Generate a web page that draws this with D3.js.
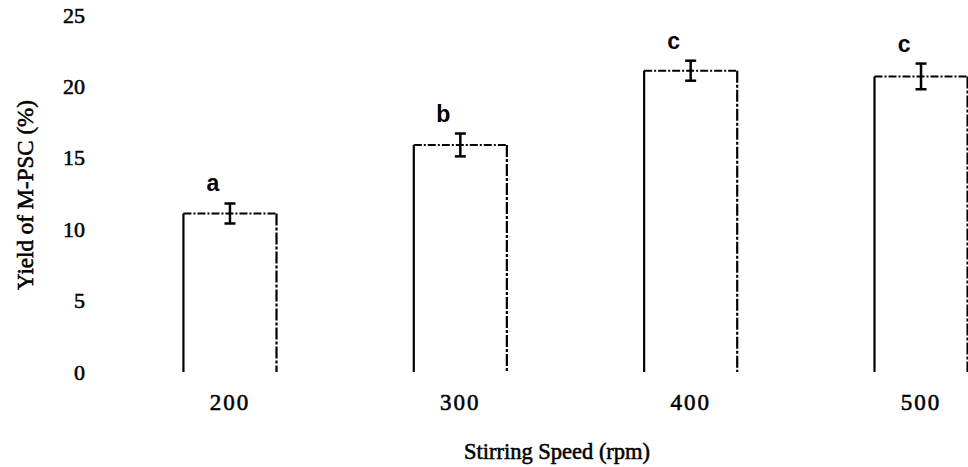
<!DOCTYPE html>
<html>
<head>
<meta charset="utf-8">
<script src="https://cdn.jsdelivr.net/npm/d3@7"></script>
<style>
  html, body { margin: 0; padding: 0; background: #fff; }
  svg { display: block; }
</style>
</head>
<body>
<svg id="chart" width="968" height="467"></svg>
<script>
// Stirring speed categories (rpm)
const speeds = ["200", "300", "400", "500"];
// Mean yield of M-PSC (%)
const yields = [11.1, 15.9, 21.1, 20.7];
// Standard deviation for each mean
const errors = [0.7, 0.8, 0.7, 0.9];
// Significance groups
const groups = ["a", "b", "c", "c"];
// Y axis ticks
const yTicks = [0, 5, 10, 15, 20, 25];

const svg = d3.select("#chart");

const x = d3.scaleBand()
  .domain(speeds)
  .range([114.8, 1036.2])
  .paddingInner(0.596)
  .paddingOuter(0.298);

const y = d3.scaleLinear()
  .domain([0, 25])
  .range([372, 15]);

const serif = "'Liberation Serif', 'Times New Roman', serif";
const sans = "'Liberation Sans', Arial, sans-serif";

// Serif labels drawn with a thin outline for a medium weight
const medium = sel => sel
  .attr("font-family", serif)
  .attr("fill", "#000")
  .attr("stroke", "#000")
  .attr("stroke-width", 0.55);

// Y axis: labels only, no line or tick marks
const yAxis = svg.append("g")
  .attr("transform", "translate(92,0)")
  .call(d3.axisLeft(y).tickValues(yTicks).tickSize(0).tickPadding(7));
yAxis.select(".domain").remove();
yAxis.selectAll("text")
  .call(medium)
  .attr("font-size", 22);

// X axis: labels only
const xAxis = svg.append("g")
  .attr("transform", "translate(0,372)")
  .call(d3.axisBottom(x).tickSize(0).tickPadding(22));
xAxis.select(".domain").remove();
xAxis.selectAll("text")
  .call(medium)
  .attr("font-size", 23)
  .attr("letter-spacing", 2);

// Open bars: left, top and right edges
const bars = svg.append("g").selectAll("g")
  .data(speeds.map((s, i) => ({ s, v: yields[i], e: errors[i], g: groups[i] })))
  .join("g");

bars.append("line")
  .attr("x1", d => x(d.s)).attr("x2", d => x(d.s))
  .attr("y1", y(0)).attr("y2", d => y(d.v))
  .attr("stroke", "#000").attr("stroke-width", 2.2);

bars.append("line")
  .attr("x1", d => x(d.s)).attr("x2", d => x(d.s) + x.bandwidth())
  .attr("y1", d => y(d.v)).attr("y2", d => y(d.v))
  .attr("stroke", "#000").attr("stroke-width", 2)
  .attr("stroke-dasharray", "8,2,2,2");

bars.append("line")
  .attr("x1", d => x(d.s) + x.bandwidth()).attr("x2", d => x(d.s) + x.bandwidth())
  .attr("y1", d => y(d.v)).attr("y2", y(0))
  .attr("stroke", "#000").attr("stroke-width", 2.2)
  .attr("stroke-dasharray", "12,2,3,2");

// Error bars
const cx = d => x(d.s) + x.bandwidth() / 2;
bars.append("line")
  .attr("x1", cx).attr("x2", cx)
  .attr("y1", d => y(d.v + d.e)).attr("y2", d => y(d.v - d.e))
  .attr("stroke", "#000").attr("stroke-width", 2.5);
bars.append("line")
  .attr("x1", d => cx(d) - 5.5).attr("x2", d => cx(d) + 5.5)
  .attr("y1", d => y(d.v + d.e)).attr("y2", d => y(d.v + d.e))
  .attr("stroke", "#000").attr("stroke-width", 2.5);
bars.append("line")
  .attr("x1", d => cx(d) - 5.5).attr("x2", d => cx(d) + 5.5)
  .attr("y1", d => y(d.v - d.e)).attr("y2", d => y(d.v - d.e))
  .attr("stroke", "#000").attr("stroke-width", 2.5);

// Significance letters
bars.append("text")
  .attr("x", d => cx(d) - 17)
  .attr("y", d => y(d.v + d.e) - 12)
  .attr("text-anchor", "middle")
  .attr("font-family", sans)
  .attr("font-size", 23)
  .attr("font-weight", "bold")
  .attr("fill", "#000")
  .text(d => d.g);

// Axis titles
svg.append("text")
  .call(medium)
  .attr("x", 557).attr("y", 459)
  .attr("text-anchor", "middle")
  .attr("font-size", 22.5)
  .text("Stirring Speed (rpm)");

svg.append("text")
  .call(medium)
  .attr("transform", "translate(33,195) rotate(-90)")
  .attr("text-anchor", "middle")
  .attr("font-size", 23)
  .text("Yield of M-PSC (%)");
</script>
</body>
</html>
